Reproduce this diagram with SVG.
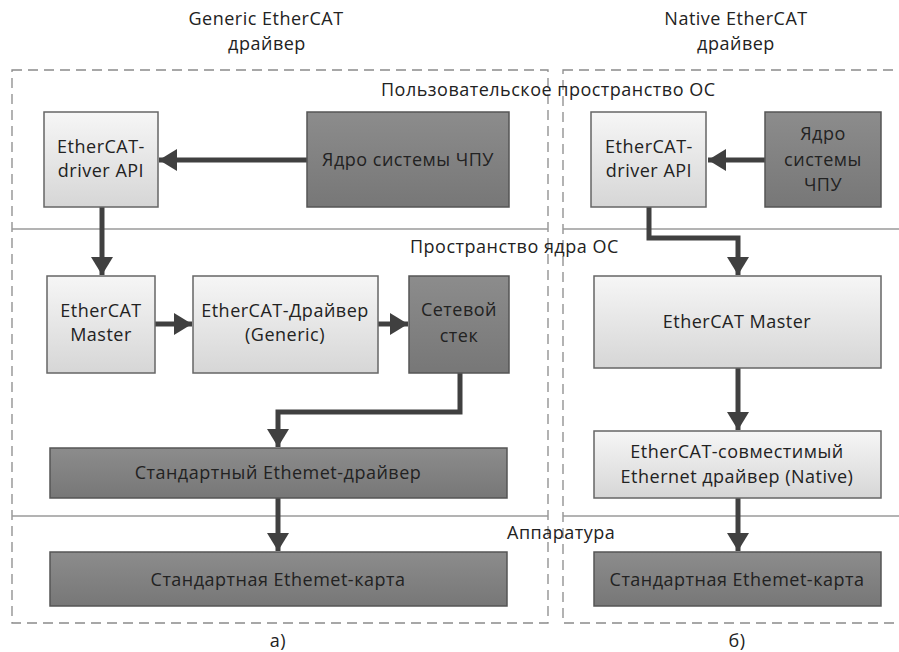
<svg xmlns="http://www.w3.org/2000/svg" width="899" height="652" viewBox="0 0 899 652">
<style>
text{font-family:"Open Sans","Noto Sans","DejaVu Sans",sans-serif;font-size:18px;fill:#222;letter-spacing:0.5px}
.c{text-anchor:middle}
.light{fill:url(#gl);stroke:#666;stroke-width:1.5}
.dark{fill:url(#gd);stroke:#555;stroke-width:1.5}
.zone{fill:none;stroke:#8a8a8a;stroke-width:1.3;stroke-dasharray:10 6}
.sep{stroke:#9a9a9a;stroke-width:1.3}
.arr{fill:none;stroke:#404040;stroke-width:5;marker-end:url(#ah)}
</style>
<defs>
<linearGradient id="gl" x1="0" y1="0" x2="0" y2="1"><stop offset="0" stop-color="#f6f6f6"/><stop offset="1" stop-color="#d6d6d6"/></linearGradient>
<linearGradient id="gd" x1="0" y1="0" x2="0" y2="1"><stop offset="0" stop-color="#8c8c8c"/><stop offset="1" stop-color="#777"/></linearGradient>
<marker id="ah" markerUnits="userSpaceOnUse" markerWidth="20" markerHeight="22" refX="18" refY="11" orient="auto"><path d="M0,0 L18,11 L0,22 Z" fill="#404040"/></marker>
</defs>
<rect width="899" height="652" fill="#fff"/>

<g id="titles">
<text class="c" x="266" y="25">Generic EtherCAT</text>
<text class="c" x="267" y="50">драйвер</text>
<text class="c" x="736" y="25">Native EtherCAT</text>
<text class="c" x="736" y="50">драйвер</text>
<text class="c" x="278" y="647">а)</text>
<text class="c" x="737" y="647">б)</text>
</g>

<g id="zones">
<rect class="zone" x="12" y="70" width="536" height="553"/>
<rect class="zone" x="563" y="70" width="345" height="553"/>
<line class="sep" x1="12" y1="229" x2="548" y2="229"/>
<line class="sep" x1="563" y1="229" x2="899" y2="229"/>
<line class="sep" x1="12" y1="516" x2="548" y2="516"/>
<line class="sep" x1="563" y1="516" x2="899" y2="516"/>
<text x="381" y="96">Пользовательское пространство ОС</text>
<text x="410" y="253">Пространство ядра ОС</text>
<text x="507" y="539">Аппаратура</text>
</g>

<g id="connectors">
<line class="arr" x1="307" y1="160" x2="159" y2="160"/>
<line class="arr" x1="102" y1="207" x2="102" y2="275"/>
<line class="arr" x1="155" y1="324" x2="192" y2="324"/>
<line class="arr" x1="378" y1="324" x2="408" y2="324"/>
<polyline class="arr" points="460,373 460,412 278,412 278,447"/>
<line class="arr" x1="278" y1="498" x2="278" y2="551"/>
<line class="arr" x1="765" y1="160" x2="708" y2="160"/>
<polyline class="arr" points="649,207 649,238 738,238 738,275"/>
<line class="arr" x1="738" y1="368" x2="738" y2="430"/>
<line class="arr" x1="738" y1="498" x2="738" y2="551"/>
</g>

<g id="a-api">
<rect class="light" x="44" y="112" width="114" height="95"/>
<text class="c" x="101" y="153">EtherCAT-</text>
<text class="c" x="101" y="177">driver API</text>
</g>
<g id="a-core">
<rect class="dark" x="307" y="112" width="202" height="95"/>
<text class="c" x="408" y="166">Ядро системы ЧПУ</text>
</g>
<g id="a-master">
<rect class="light" x="47" y="276" width="108" height="97"/>
<text class="c" x="101" y="317">EtherCAT</text>
<text class="c" x="101" y="341">Master</text>
</g>
<g id="a-driver">
<rect class="light" x="193" y="276" width="185" height="97"/>
<text class="c" x="285" y="317">EtherCAT-Драйвер</text>
<text class="c" x="285" y="341">(Generic)</text>
</g>
<g id="a-stack">
<rect class="dark" x="409" y="276" width="100" height="97"/>
<text class="c" x="459" y="316">Сетевой</text>
<text class="c" x="459" y="342">стек</text>
</g>
<g id="a-eth-driver">
<rect class="dark" x="50" y="448" width="457" height="50"/>
<text class="c" x="278" y="479">Стандартный Ethemet-драйвер</text>
</g>
<g id="a-card">
<rect class="dark" x="50" y="552" width="457" height="54"/>
<text class="c" x="278" y="586">Стандартная Ethemet-карта</text>
</g>

<g id="b-api">
<rect class="light" x="591" y="112" width="115" height="95"/>
<text class="c" x="649" y="153">EtherCAT-</text>
<text class="c" x="649" y="177">driver API</text>
</g>
<g id="b-core">
<rect class="dark" x="765" y="112" width="116" height="95"/>
<text class="c" x="823" y="140">Ядро</text>
<text class="c" x="823" y="166">системы</text>
<text class="c" x="823" y="191">ЧПУ</text>
</g>
<g id="b-master">
<rect class="light" x="594" y="276" width="287" height="92"/>
<text class="c" x="737" y="328">EtherCAT Master</text>
</g>
<g id="b-native">
<rect class="light" x="594" y="431" width="287" height="67"/>
<text class="c" x="737" y="458">EtherCAT-совместимый</text>
<text class="c" x="737" y="483">Ethernet драйвер (Native)</text>
</g>
<g id="b-card">
<rect class="dark" x="594" y="552" width="287" height="54"/>
<text class="c" x="737" y="586">Стандартная Ethemet-карта</text>
</g>
</svg>
